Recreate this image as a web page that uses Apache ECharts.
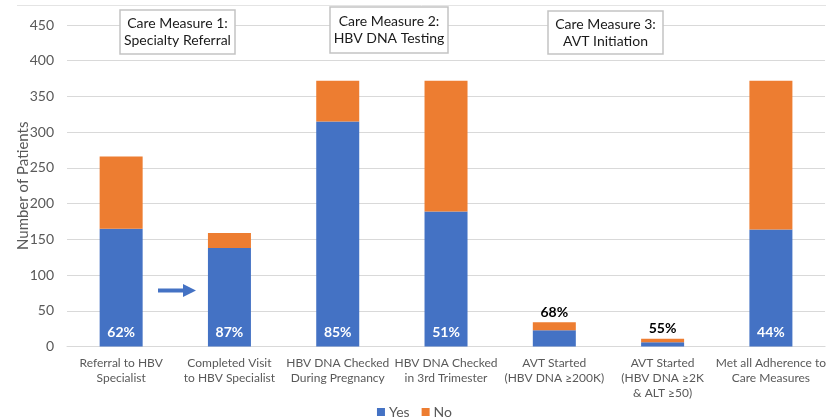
<!DOCTYPE html>
<html>
<head>
<meta charset="utf-8">
<title>Adherence to HBV Care Measures</title>
<script src="https://cdn.jsdelivr.net/npm/echarts@6/dist/echarts.min.js"></script>
<style>
  html, body { margin: 0; padding: 0; background: #ffffff; }
  #chart { width: 829px; height: 419px; }
</style>
</head>
<body>
<div id="chart"></div>
<script>
// Care-cascade categories (x axis)
const categories = [
  'Referral to HBV\nSpecialist',
  'Completed Visit\nto HBV Specialist',
  'HBV DNA Checked\nDuring Pregnancy',
  'HBV DNA Checked\nin 3rd Trimester',
  'AVT Started\n(HBV DNA ≥200K)',
  'AVT Started\n(HBV DNA ≥2K\n& ALT ≥50)',
  'Met all Adherence to\nCare Measures'
];

// Patients meeting / not meeting each measure
const yesCounts = [165, 138, 315, 189, 23, 6, 164];
const noCounts  = [101, 21, 57, 183, 11, 5, 208];

// Y axis ticks
const yMax = 450;
const yStep = 50;

// Group headings
const measureTitles = [
  'Care Measure 1:\nSpecialty Referral',
  'Care Measure 2:\nHBV DNA Testing',
  'Care Measure 3:\nAVT Initiation'
];

const YES_COLOR = '#4472C4';
const NO_COLOR = '#ED7D31';
const FONT = 'Lato, "Open Sans", sans-serif';

const pct = yesCounts.map((y, i) => Math.round(y / (y + noCounts[i]) * 100) + '%');
const smallBar = yesCounts.map((y, i) => (y + noCounts[i]) < 50);

const chart = echarts.init(document.getElementById('chart'), null, { renderer: 'canvas' });

const yesData = yesCounts.map((v, i) => ({
  value: v,
  label: {
    show: !smallBar[i],
    formatter: pct[i],
    position: 'insideBottom',
    distance: 7,
    color: '#ffffff',
    fontWeight: 'bold',
    fontSize: 14,
    fontFamily: FONT
  }
}));

const noData = noCounts.map((v, i) => ({
  value: v,
  label: {
    show: smallBar[i],
    formatter: pct[i],
    position: 'top',
    distance: 3,
    color: '#000000',
    fontWeight: 'bold',
    fontSize: 14,
    fontFamily: FONT
  }
}));

// Heading boxes: [left, top, width, height]
const boxes = [
  [120, 10, 115, 44],
  [330, 7, 118, 46],
  [548, 11, 115, 43]
];

const graphics = [
  {
    type: 'line',
    shape: { x1: 17, y1: 5.5, x2: 826, y2: 5.5 },
    style: { stroke: '#e4e4e4', lineWidth: 1 },
    silent: true
  }
];
boxes.forEach((b, i) => {
  graphics.push({
    type: 'rect',
    z: 100,
    zlevel: 1,
    shape: { x: b[0], y: b[1], width: b[2], height: b[3] },
    style: { fill: '#ffffff', stroke: '#c3c3c3', lineWidth: 1.5 }
  });
  graphics.push({
    type: 'text',
    z: 101,
    zlevel: 1,
    x: b[0] + b[2] / 2,
    y: b[1] + b[3] / 2,
    style: {
      text: measureTitles[i],
      fill: '#1a1a1a',
      font: '14px ' + FONT,
      lineHeight: 17,
      align: 'center',
      verticalAlign: 'middle'
    }
  });
});

// Arrow between referral and completed visit
graphics.push({
  type: 'polygon',
  z: 100,
  zlevel: 1,
  shape: {
    points: [
      [158, 288.5], [183, 288.5], [183, 284], [196, 290.5],
      [183, 297], [183, 292.5], [158, 292.5]
    ]
  },
  style: { fill: YES_COLOR }
});

chart.setOption({
  animation: false,
  backgroundColor: '#ffffff',
  textStyle: { fontFamily: FONT },
  grid: { left: 67, right: 3, top: 25, bottom: 72.4, containLabel: false },
  legend: {
    data: ['Yes', 'No'],
    top: 400,
    left: 'center',
    icon: 'rect',
    itemWidth: 8,
    itemHeight: 8,
    itemGap: 12,
    textStyle: { color: '#595959', fontSize: 14, fontFamily: FONT, padding: [0, 0, 0, -1] }
  },
  xAxis: {
    type: 'category',
    data: categories,
    axisLine: { lineStyle: { color: '#d9d9d9', width: 1 } },
    axisTick: { show: false },
    axisLabel: {
      color: '#595959',
      fontSize: 12,
      lineHeight: 15,
      margin: 9,
      interval: 0,
      fontFamily: FONT
    }
  },
  yAxis: {
    type: 'value',
    min: 0,
    max: yMax,
    interval: yStep,
    name: 'Number of Patients',
    nameLocation: 'middle',
    nameGap: 36,
    nameMoveOverlap: false,
    nameTextStyle: { color: '#595959', fontSize: 15, fontFamily: FONT },
    axisLine: { show: false },
    axisTick: { show: false },
    axisLabel: { color: '#595959', fontSize: 14, margin: 13, fontFamily: FONT },
    splitLine: { lineStyle: { color: '#d9d9d9', width: 1 } }
  },
  series: [
    {
      name: 'Yes',
      type: 'bar',
      stack: 'total',
      barWidth: 43,
      itemStyle: { color: YES_COLOR },
      data: yesData
    },
    {
      name: 'No',
      type: 'bar',
      stack: 'total',
      barWidth: 43,
      itemStyle: { color: NO_COLOR },
      data: noData
    }
  ],
  graphic: graphics
});
</script>
</body>
</html>
